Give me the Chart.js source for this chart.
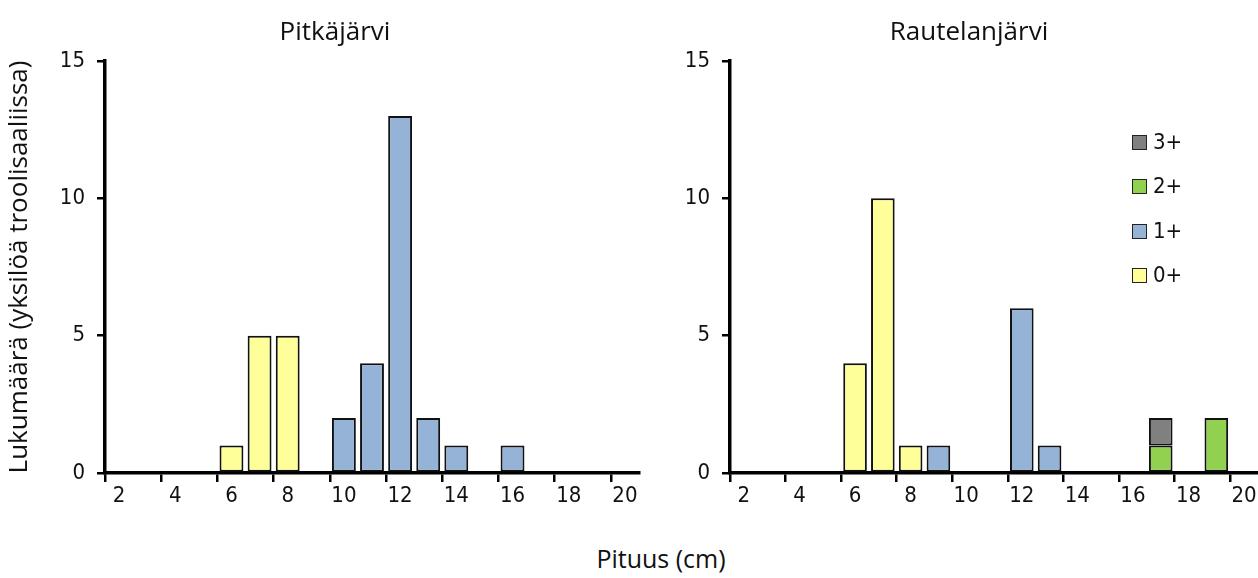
<!DOCTYPE html>
<html>
<head>
<meta charset="utf-8">
<script src="https://cdn.jsdelivr.net/npm/chart.js@4.4.0/dist/chart.umd.min.js"></script>
<style>
  html, body { margin: 0; padding: 0; background: #fff; }
  body { width: 1258px; height: 578px; position: relative; overflow: hidden;
         font-family: 'Open Sans', 'DejaVu Sans', sans-serif; color: #000; }
  .panel { position: absolute; top: 0; height: 520px; }
  #leftPanel { left: 0; width: 666px; }
  #rightPanel { left: 680px; width: 578px; }
  .title { position: absolute; top: 12px; font-size: 26px; line-height: 36px; transform: translateX(-50%); white-space: nowrap; color: #111; }
  #xTitle { position: absolute; top: 540px; left: 661px; font-size: 25px; line-height: 36px; transform: translateX(-50%); white-space: nowrap; color: #111; }
  #legend { position: absolute; left: 1132px; top: 127px; font-family: 'DejaVu Sans Condensed', sans-serif; font-size: 22px; color: #111; }
  .legend-item { height: 44.3px; display: flex; align-items: flex-start; line-height: 30px; }
  .legend-box { width: 13px; height: 13px; border: 1.5px solid #222; margin-top: 8px; margin-right: 6px; }
</style>
</head>
<body>
<div id="leftPanel" class="panel"><canvas id="leftChart"></canvas></div>
<div id="rightPanel" class="panel"><canvas id="rightChart"></canvas></div>
<div class="title" style="left:335px">Pitkäjärvi</div>
<div class="title" style="left:969px">Rautelanjärvi</div>
<div id="xTitle">Pituus (cm)</div>
<div id="legend"></div>
<script>
// length classes (cm), one category per cm
const lengths = ['2', '3', '4', '5', '6', '7', '8', '9', '10', '11', '12', '13', '14', '15', '16', '17', '18', '19', '20'];
const ageGroups = ['0+', '1+', '2+', '3+'];
const ageColors = ['#FFFF99', '#95B3D7', '#92D050', '#808080'];

// Pitkäjärvi counts per length class
const pitka0 = [0, 0, 0, 0, 1, 5, 5, 0, 0, 0, 0, 0, 0, 0, 0, 0, 0, 0, 0];
const pitka1 = [0, 0, 0, 0, 0, 0, 0, 0, 2, 4, 13, 2, 1, 0, 1, 0, 0, 0, 0];
const pitka2 = [0, 0, 0, 0, 0, 0, 0, 0, 0, 0, 0, 0, 0, 0, 0, 0, 0, 0, 0];
const pitka3 = [0, 0, 0, 0, 0, 0, 0, 0, 0, 0, 0, 0, 0, 0, 0, 0, 0, 0, 0];

// Rautelanjärvi counts per length class
const raut0 = [0, 0, 0, 0, 4, 10, 1, 0, 0, 0, 0, 0, 0, 0, 0, 0, 0, 0, 0];
const raut1 = [0, 0, 0, 0, 0, 0, 0, 1, 0, 0, 6, 1, 0, 0, 0, 0, 0, 0, 0];
const raut2 = [0, 0, 0, 0, 0, 0, 0, 0, 0, 0, 0, 0, 0, 0, 0, 1, 0, 2, 0];
const raut3 = [0, 0, 0, 0, 0, 0, 0, 0, 0, 0, 0, 0, 0, 0, 0, 1, 0, 0, 0];

const yTicks = [0, 5, 10, 15];
const yTitle = 'Lukumäärä (yksilöä troolisaaliissa)';

const tickFont = { family: "'DejaVu Sans Condensed', sans-serif", size: 22 };

const makeChart = (canvasId, series, yWidth, padRight, showTitle) => {
    const datasets = series.map((values, i) => ({
        label: ageGroups[i],
        data: values,
        backgroundColor: ageColors[i],
        borderColor: '#111',
        borderWidth: ctx => (ctx.raw ? 2 : 0),
        borderSkipped: false,
        categoryPercentage: 1,
        barPercentage: 0.85
    }));

    return new Chart(document.getElementById(canvasId), {
        type: 'bar',
        data: { labels: lengths, datasets },
        options: {
            responsive: true,
            maintainAspectRatio: false,
            animation: false,
            layout: { padding: { top: 61, left: 0, right: padRight, bottom: 0 } },
            plugins: { legend: { display: false }, tooltip: { enabled: false } },
            scales: {
                x: {
                    stacked: true,
                    offset: true,
                    grid: {
                        offset: true,
                        drawOnChartArea: false,
                        tickLength: 9,
                        lineWidth: 2.5,
                        tickColor: ctx => (ctx.index % 2 === 0 ? '#000' : 'rgba(0,0,0,0)')
                    },
                    border: { color: '#000', width: 3.5 },
                    ticks: {
                        autoSkip: false,
                        maxRotation: 0,
                        padding: 1,
                        color: '#111',
                        font: tickFont,
                        callback: (v, i) => (i % 2 === 0 ? lengths[i] : '')
                    },
                    afterFit: scale => { scale.height = 47; }
                },
                y: {
                    stacked: true,
                    min: yTicks[0],
                    max: yTicks[yTicks.length - 1],
                    afterBuildTicks: scale => { scale.ticks = yTicks.map(v => ({ value: v })); },
                    grid: { drawOnChartArea: false, tickLength: 8, lineWidth: 2.5, color: '#000' },
                    border: { color: '#000', width: 3.5 },
                    ticks: { padding: 12, color: '#111', font: tickFont },
                    title: {
                        display: showTitle,
                        text: yTitle,
                        color: '#111',
                        font: { family: "'Open Sans', sans-serif", size: 26 },
                        padding: { top: 4, bottom: 0 }
                    },
                    afterFit: scale => { scale.width = yWidth; }
                }
            }
        }
    });
};

makeChart('leftChart', [pitka0, pitka1, pitka2, pitka3], 105, 27, true);
makeChart('rightChart', [raut0, raut1, raut2, raut3], 50, 0, false);

// legend, top to bottom in reverse stacking order
const legendEl = document.getElementById('legend');
for (let i = ageGroups.length - 1; i >= 0; i--) {
    const item = document.createElement('div');
    item.className = 'legend-item';
    item.innerHTML = `<span class="legend-box" style="background:${ageColors[i]}"></span><span>${ageGroups[i]}</span>`;
    legendEl.appendChild(item);
}
</script>
</body>
</html>
